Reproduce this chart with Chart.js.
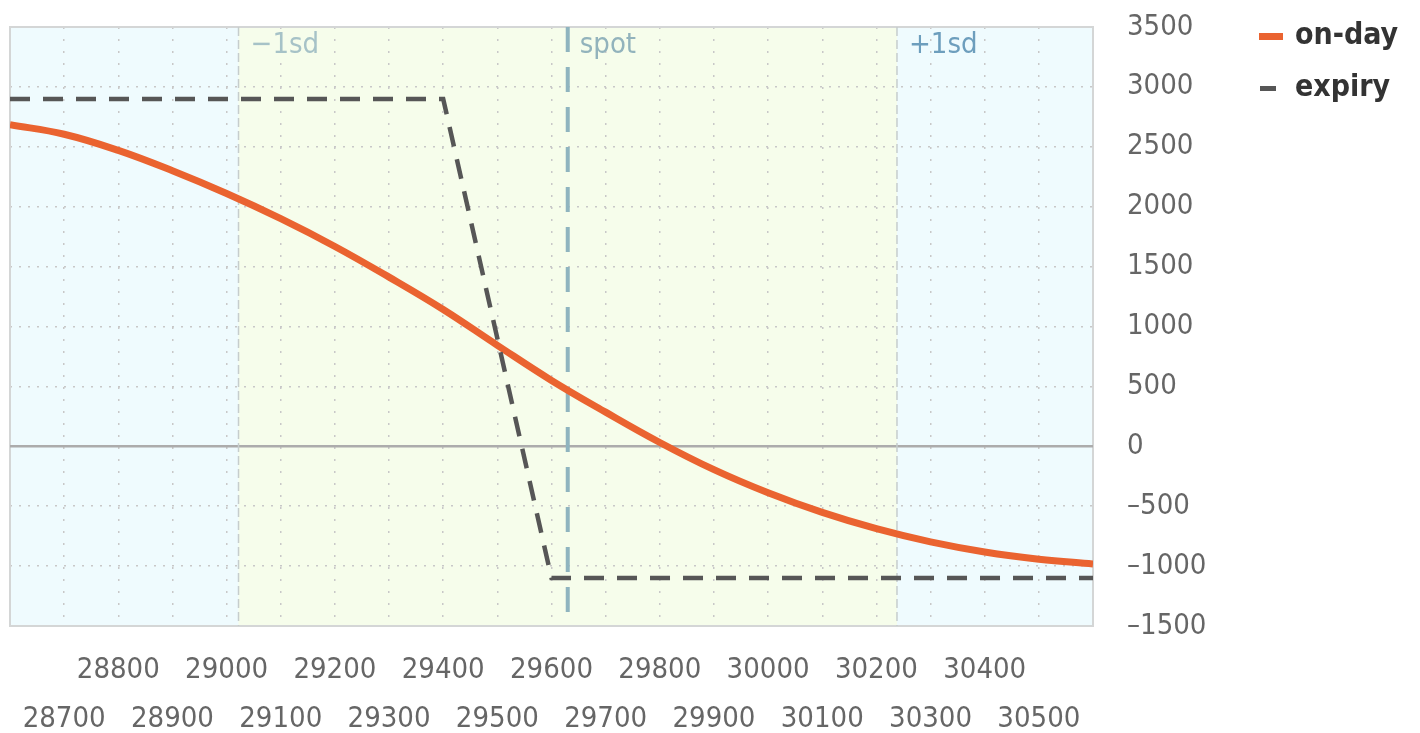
<!DOCTYPE html>
<html>
<head>
<meta charset="utf-8">
<script src="https://cdn.jsdelivr.net/npm/chart.js@4.4.0/dist/chart.umd.min.js"></script>
<style>
  html, body { margin: 0; padding: 0; background: #fff; }
  #wrap { width: 1420px; height: 733px; }
</style>
</head>
<body>
<div id="wrap"><canvas id="chart"></canvas></div>
<script>
// underlying price on the x axis
const strikes = [28600, 28700, 28800, 28900, 29000, 29100, 29200, 29300, 29400, 29500, 29600,
                 29700, 29800, 29900, 30000, 30100, 30200, 30300, 30400, 30500, 30600];
// P&L today (smooth curve)
const onDayPnl = [2685, 2605, 2470, 2300, 2110, 1900, 1668, 1412, 1142, 843, 550,
                  285, 32, -195, -388, -552, -688, -798, -882, -942, -982];
// P&L at expiry (corners of the payoff)
const expiryStrikes = [28600, 29400, 29600, 30600];
const expiryPnl = [2900, 2900, -1100, -1100];

const seriesNames = ['on-day', 'expiry'];
const pnlTicks = [-1500, -1000, -500, 0, 500, 1000, 1500, 2000, 2500, 3000, 3500];

const spotPrice = 29630;
const sdLow = 29022;
const sdHigh = 30238;
const markerLabels = ['−1sd', 'spot', '+1sd'];

const fontFamily = "'DejaVu Sans Condensed', 'Open Sans', sans-serif";
const orange = '#ea6330';
const darkGray = '#565656';
const gridGray = '#c8c8c8';

// fondo, marco, líneas de sd y spot
const decor = {
    id: 'decor',
    beforeDraw(chart) {
        const { ctx, chartArea: a, scales: { x } } = chart;
        const lo = x.getPixelForValue(sdLow);
        const hi = x.getPixelForValue(sdHigh);
        ctx.save();
        ctx.fillStyle = '#effbfe';
        ctx.fillRect(a.left, a.top, a.right - a.left, a.bottom - a.top);
        ctx.fillStyle = '#f6fdeb';
        ctx.fillRect(lo, a.top, hi - lo, a.bottom - a.top);
        ctx.restore();
    },
    beforeDatasetsDraw(chart) {
        const { ctx, chartArea: a, scales: { x, y } } = chart;
        ctx.save();

        // marco
        ctx.strokeStyle = '#d4d6d6';
        ctx.lineWidth = 2;
        ctx.strokeRect(a.left, a.top, a.right - a.left, a.bottom - a.top);

        // línea del cero
        const y0 = y.getPixelForValue(0);
        ctx.strokeStyle = '#acacac';
        ctx.lineWidth = 2.5;
        ctx.beginPath();
        ctx.moveTo(a.left, y0);
        ctx.lineTo(a.right, y0);
        ctx.stroke();

        // -1sd / +1sd
        ctx.strokeStyle = '#c6cdcd';
        ctx.lineWidth = 1.5;
        ctx.setLineDash([9, 4]);
        [sdLow, sdHigh].forEach(v => {
            const px = x.getPixelForValue(v);
            ctx.beginPath();
            ctx.moveTo(px, a.top);
            ctx.lineTo(px, a.bottom);
            ctx.stroke();
        });

        // spot
        const sp = x.getPixelForValue(spotPrice);
        ctx.strokeStyle = '#8fb4bf';
        ctx.lineWidth = 4;
        ctx.setLineDash([25, 15]);
        ctx.beginPath();
        ctx.moveTo(sp, a.top);
        ctx.lineTo(sp, a.bottom);
        ctx.stroke();
        ctx.setLineDash([]);

        // etiquetas
        ctx.font = '29px ' + fontFamily;
        ctx.textBaseline = 'middle';
        ctx.textAlign = 'left';
        const colores = ['#a6c2c7', '#92b3bc', '#6d9ebd'];
        [sdLow, spotPrice, sdHigh].forEach((v, i) => {
            ctx.fillStyle = colores[i];
            ctx.fillText(markerLabels[i], x.getPixelForValue(v) + 12, a.top + 18);
        });
        ctx.restore();
    },
    afterDraw(chart) {
        const { ctx } = chart;
        ctx.save();
        ctx.fillStyle = orange;
        ctx.fillRect(1259, 33, 24, 7);
        ctx.fillStyle = darkGray;
        ctx.fillRect(1260, 86, 16, 5);
        ctx.font = 'bold 30px ' + fontFamily;
        ctx.fillStyle = '#333';
        ctx.textBaseline = 'alphabetic';
        ctx.fillText(seriesNames[0], 1295, 44);
        ctx.fillText(seriesNames[1], 1295, 96);
        ctx.restore();
    }
};

const formatPnl = v => (v < 0 ? '–' + Math.abs(v) : String(v));

new Chart(document.getElementById('chart'), {
    type: 'line',
    data: {
        datasets: [{
            label: seriesNames[0],
            data: strikes.map((s, i) => ({ x: s, y: onDayPnl[i] })),
            borderColor: orange,
            borderWidth: 7,
            pointRadius: 0,
            tension: 0.4,
            order: 1
        }, {
            label: seriesNames[1],
            data: expiryStrikes.map((s, i) => ({ x: s, y: expiryPnl[i] })),
            borderColor: darkGray,
            borderWidth: 4.5,
            borderDash: [20, 13],
            pointRadius: 0,
            tension: 0,
            order: 0
        }]
    },
    options: {
        responsive: true,
        maintainAspectRatio: false,
        animation: false,
        layout: { padding: { top: 27, left: 10, right: 0, bottom: 0 } },
        plugins: {
            legend: { display: false },
            tooltip: { enabled: false }
        },
        scales: {
            x: {
                type: 'linear',
                min: strikes[0],
                max: strikes[strikes.length - 1],
                afterBuildTicks: scale => {
                    scale.ticks = strikes.map(v => ({ value: v }));
                },
                afterFit: scale => {
                    scale.height = 107;
                    scale.paddingLeft = 0;
                    scale.paddingRight = 0;
                },
                grid: {
                    color: gridGray,
                    lineWidth: 1.5,
                    drawTicks: false
                },
                border: { display: false, dash: [2, 10] },
                ticks: {
                    autoSkip: false,
                    maxRotation: 0,
                    minRotation: 0,
                    padding: 20,
                    color: '#666',
                    font: { family: fontFamily, size: 29, lineHeight: 1.69 },
                    callback: v => {
                        if (v === strikes[0] || v === strikes[strikes.length - 1]) return '';
                        return (v / 100) % 2 === 0 ? [String(v), ''] : ['', String(v)];
                    }
                }
            },
            y: {
                position: 'right',
                min: pnlTicks[0],
                max: pnlTicks[pnlTicks.length - 1],
                afterBuildTicks: scale => {
                    scale.ticks = pnlTicks.map(v => ({ value: v }));
                },
                afterFit: scale => {
                    scale.width = 327;
                    scale.paddingTop = 0;
                    scale.paddingBottom = 0;
                },
                grid: {
                    color: c => (c.tick && c.tick.value === 0 ? 'rgba(0,0,0,0)' : gridGray),
                    lineWidth: 1.5,
                    drawTicks: false
                },
                border: { display: false, dash: [2, 7] },
                ticks: {
                    padding: 34,
                    color: '#666',
                    font: { family: fontFamily, size: 29 },
                    callback: v => formatPnl(v)
                }
            }
        }
    },
    plugins: [decor]
});
</script>
</body>
</html>
